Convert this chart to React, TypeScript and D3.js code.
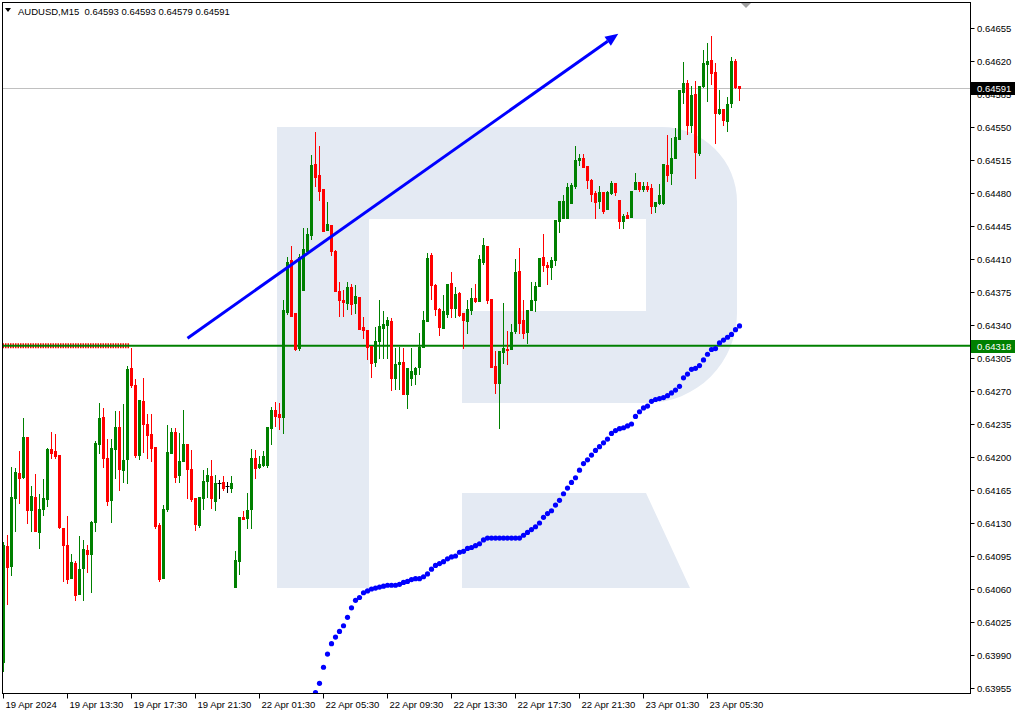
import React from 'react';
import * as d3 from 'd3';

// OHLC quotes, AUDUSD M15 (bar 0 = 19 Apr 09:30)
const opens = [
  0.63983, 0.64106, 0.64084, 0.64156, 0.64183, 0.64179, 0.64221, 0.64144, 0.64158, 0.64120,
  0.64145, 0.64155, 0.64209, 0.64206, 0.64202, 0.64125, 0.64107, 0.64072, 0.64088, 0.64055,
  0.64082, 0.64101, 0.64097, 0.64131, 0.64214, 0.64242, 0.64199, 0.64154, 0.64208, 0.64232,
  0.64186, 0.64198, 0.64294, 0.64276, 0.64202, 0.64259, 0.64235, 0.64224, 0.64211, 0.64128,
  0.64072, 0.64145, 0.64204, 0.64226, 0.64181, 0.64196, 0.64214, 0.64187, 0.64156, 0.64128,
  0.64156, 0.64175, 0.64180, 0.64153, 0.64172, 0.64173, 0.64169, 0.64167, 0.64062, 0.64090,
  0.64136, 0.64135, 0.64145, 0.64199, 0.64189, 0.64191, 0.64191, 0.64231, 0.64250, 0.64246,
  0.64242, 0.64354, 0.64409, 0.64353, 0.64316, 0.64377, 0.64419, 0.64435, 0.64511, 0.64499,
  0.64484, 0.64441, 0.64446, 0.64419, 0.64376, 0.64367, 0.64363, 0.64380, 0.64363, 0.64370,
  0.64338, 0.64335, 0.64318, 0.64301, 0.64323, 0.64337, 0.64340, 0.64344, 0.64284, 0.64299,
  0.64301, 0.64267, 0.64284, 0.64288, 0.64295, 0.64317, 0.64344, 0.64414, 0.64382, 0.64357,
  0.64337, 0.64352, 0.64385, 0.64358, 0.64374, 0.64353, 0.64344, 0.64356, 0.64369, 0.64365,
  0.64407, 0.64424, 0.64368, 0.64297, 0.64278, 0.64311, 0.64315, 0.64315, 0.64334, 0.64397,
  0.64345, 0.64333, 0.64356, 0.64366, 0.64381, 0.64412, 0.64404, 0.64401, 0.64409, 0.64450,
  0.64454, 0.64454, 0.64469, 0.64487, 0.64515, 0.64517, 0.64509, 0.64494, 0.64480, 0.64471,
  0.64481, 0.64463, 0.64480, 0.64491, 0.64473, 0.64450, 0.64457, 0.64455, 0.64484, 0.64492,
  0.64484, 0.64487, 0.64485, 0.64466, 0.64469, 0.64469, 0.64510, 0.64501, 0.64517, 0.64537,
  0.64587, 0.64597, 0.64552, 0.64585, 0.64522, 0.64594, 0.64617, 0.64621, 0.64608, 0.64565,
  0.64569, 0.64556, 0.64575, 0.64620, 0.64593,
];
const highs = [
  0.64110, 0.64117, 0.64189, 0.64188, 0.64206, 0.64241, 0.64221, 0.64169, 0.64182, 0.64161,
  0.64177, 0.64210, 0.64227, 0.64224, 0.64202, 0.64125, 0.64137, 0.64097, 0.64090, 0.64116,
  0.64112, 0.64107, 0.64132, 0.64217, 0.64257, 0.64252, 0.64219, 0.64219, 0.64249, 0.64249,
  0.64256, 0.64296, 0.64316, 0.64283, 0.64260, 0.64284, 0.64246, 0.64246, 0.64211, 0.64130,
  0.64149, 0.64234, 0.64231, 0.64231, 0.64225, 0.64250, 0.64214, 0.64207, 0.64156, 0.64158,
  0.64186, 0.64188, 0.64197, 0.64181, 0.64176, 0.64180, 0.64174, 0.64180, 0.64100, 0.64136,
  0.64143, 0.64162, 0.64209, 0.64207, 0.64201, 0.64206, 0.64232, 0.64253, 0.64258, 0.64257,
  0.64367, 0.64412, 0.64424, 0.64353, 0.64415, 0.64443, 0.64443, 0.64520, 0.64545, 0.64530,
  0.64484, 0.64470, 0.64446, 0.64420, 0.64386, 0.64377, 0.64386, 0.64384, 0.64382, 0.64370,
  0.64348, 0.64335, 0.64318, 0.64338, 0.64366, 0.64355, 0.64348, 0.64347, 0.64316, 0.64317,
  0.64316, 0.64294, 0.64316, 0.64295, 0.64331, 0.64355, 0.64416, 0.64416, 0.64384, 0.64358,
  0.64372, 0.64384, 0.64396, 0.64380, 0.64375, 0.64353, 0.64367, 0.64379, 0.64383, 0.64414,
  0.64432, 0.64424, 0.64368, 0.64312, 0.64312, 0.64363, 0.64334, 0.64341, 0.64410, 0.64422,
  0.64366, 0.64356, 0.64386, 0.64386, 0.64411, 0.64436, 0.64407, 0.64412, 0.64451, 0.64471,
  0.64478, 0.64491, 0.64491, 0.64530, 0.64521, 0.64521, 0.64509, 0.64495, 0.64482, 0.64487,
  0.64481, 0.64482, 0.64493, 0.64491, 0.64473, 0.64458, 0.64460, 0.64482, 0.64501, 0.64492,
  0.64492, 0.64492, 0.64490, 0.64470, 0.64490, 0.64511, 0.64542, 0.64538, 0.64549, 0.64589,
  0.64619, 0.64600, 0.64594, 0.64599, 0.64594, 0.64632, 0.64639, 0.64646, 0.64618, 0.64589,
  0.64569, 0.64582, 0.64624, 0.64622, 0.64593,
];
const lows = [
  0.63973, 0.64044, 0.64075, 0.64121, 0.64151, 0.64178, 0.64130, 0.64122, 0.64121, 0.64104,
  0.64138, 0.64148, 0.64199, 0.64199, 0.64125, 0.64069, 0.64066, 0.64072, 0.64048, 0.64055,
  0.64048, 0.64078, 0.64057, 0.64122, 0.64204, 0.64189, 0.64149, 0.64131, 0.64178, 0.64165,
  0.64174, 0.64172, 0.64274, 0.64200, 0.64198, 0.64205, 0.64199, 0.64196, 0.64125, 0.64069,
  0.64072, 0.64143, 0.64204, 0.64174, 0.64174, 0.64196, 0.64156, 0.64153, 0.64123, 0.64126,
  0.64145, 0.64158, 0.64146, 0.64144, 0.64157, 0.64165, 0.64163, 0.64163, 0.64062, 0.64076,
  0.64134, 0.64125, 0.64125, 0.64178, 0.64188, 0.64190, 0.64189, 0.64214, 0.64233, 0.64230,
  0.64225, 0.64352, 0.64350, 0.64314, 0.64313, 0.64377, 0.64417, 0.64431, 0.64487, 0.64473,
  0.64440, 0.64441, 0.64414, 0.64376, 0.64350, 0.64350, 0.64357, 0.64352, 0.64353, 0.64336,
  0.64326, 0.64304, 0.64285, 0.64297, 0.64305, 0.64305, 0.64305, 0.64271, 0.64272, 0.64272,
  0.64267, 0.64252, 0.64276, 0.64277, 0.64288, 0.64317, 0.64344, 0.64368, 0.64351, 0.64329,
  0.64337, 0.64348, 0.64348, 0.64348, 0.64350, 0.64316, 0.64332, 0.64352, 0.64364, 0.64365,
  0.64405, 0.64363, 0.64295, 0.64268, 0.64231, 0.64300, 0.64299, 0.64315, 0.64331, 0.64331,
  0.64326, 0.64321, 0.64356, 0.64355, 0.64381, 0.64397, 0.64383, 0.64389, 0.64404, 0.64439,
  0.64454, 0.64453, 0.64469, 0.64485, 0.64510, 0.64508, 0.64485, 0.64471, 0.64454, 0.64464,
  0.64459, 0.64463, 0.64479, 0.64478, 0.64443, 0.64443, 0.64454, 0.64455, 0.64484, 0.64482,
  0.64482, 0.64482, 0.64459, 0.64460, 0.64468, 0.64468, 0.64493, 0.64490, 0.64517, 0.64537,
  0.64575, 0.64543, 0.64545, 0.64496, 0.64520, 0.64592, 0.64578, 0.64596, 0.64533, 0.64564,
  0.64552, 0.64546, 0.64571, 0.64591, 0.64579,
];
const closes = [
  0.64107, 0.64083, 0.64158, 0.64184, 0.64178, 0.64221, 0.64144, 0.64159, 0.64122, 0.64145,
  0.64157, 0.64208, 0.64204, 0.64201, 0.64126, 0.64107, 0.64071, 0.64089, 0.64054, 0.64081,
  0.64102, 0.64097, 0.64131, 0.64215, 0.64241, 0.64199, 0.64153, 0.64210, 0.64232, 0.64187,
  0.64197, 0.64293, 0.64276, 0.64202, 0.64260, 0.64235, 0.64223, 0.64210, 0.64127, 0.64071,
  0.64145, 0.64205, 0.64227, 0.64179, 0.64196, 0.64214, 0.64187, 0.64155, 0.64129, 0.64158,
  0.64175, 0.64181, 0.64157, 0.64172, 0.64172, 0.64167, 0.64169, 0.64172, 0.64091, 0.64136,
  0.64134, 0.64144, 0.64199, 0.64188, 0.64193, 0.64201, 0.64232, 0.64250, 0.64244, 0.64242,
  0.64356, 0.64407, 0.64350, 0.64315, 0.64412, 0.64421, 0.64437, 0.64510, 0.64497, 0.64482,
  0.64440, 0.64447, 0.64419, 0.64376, 0.64366, 0.64364, 0.64380, 0.64362, 0.64371, 0.64336,
  0.64335, 0.64317, 0.64300, 0.64323, 0.64339, 0.64341, 0.64345, 0.64284, 0.64299, 0.64301,
  0.64267, 0.64294, 0.64291, 0.64294, 0.64317, 0.64345, 0.64411, 0.64382, 0.64357, 0.64338,
  0.64355, 0.64384, 0.64358, 0.64373, 0.64351, 0.64345, 0.64357, 0.64369, 0.64365, 0.64410,
  0.64425, 0.64366, 0.64295, 0.64278, 0.64312, 0.64316, 0.64314, 0.64333, 0.64396, 0.64342,
  0.64332, 0.64356, 0.64366, 0.64381, 0.64411, 0.64404, 0.64401, 0.64409, 0.64451, 0.64471,
  0.64471, 0.64486, 0.64488, 0.64515, 0.64517, 0.64508, 0.64494, 0.64479, 0.64470, 0.64481,
  0.64461, 0.64481, 0.64491, 0.64481, 0.64450, 0.64456, 0.64454, 0.64482, 0.64492, 0.64484,
  0.64487, 0.64484, 0.64466, 0.64470, 0.64478, 0.64511, 0.64499, 0.64517, 0.64539, 0.64589,
  0.64597, 0.64552, 0.64584, 0.64523, 0.64594, 0.64618, 0.64620, 0.64607, 0.64565, 0.64569,
  0.64557, 0.64574, 0.64620, 0.64592, 0.64591,
];

// dotted indicator, one value per bar starting at bar 78
const dotStart = 78;
const dotValues = [
  0.63950, 0.63960, 0.63977, 0.63991, 0.64002, 0.64009, 0.64015, 0.64021, 0.64030, 0.64040,
  0.64048, 0.64051, 0.64056, 0.64058, 0.64060, 0.64061, 0.64062, 0.64063, 0.64064, 0.64064,
  0.64064, 0.64065, 0.64067, 0.64068, 0.64070, 0.64071, 0.64071, 0.64073, 0.64076, 0.64081,
  0.64085, 0.64087, 0.64089, 0.64092, 0.64094, 0.64095, 0.64099, 0.64100, 0.64103, 0.64104,
  0.64106, 0.64108, 0.64112, 0.64114, 0.64114, 0.64114, 0.64114, 0.64114, 0.64114, 0.64114,
  0.64114, 0.64114, 0.64117, 0.64120, 0.64123, 0.64126, 0.64130, 0.64136, 0.64140, 0.64143,
  0.64149, 0.64154, 0.64161, 0.64167, 0.64173, 0.64178, 0.64186, 0.64193, 0.64197, 0.64202,
  0.64207, 0.64211, 0.64215, 0.64219, 0.64225, 0.64228, 0.64230, 0.64231, 0.64233, 0.64235,
  0.64243, 0.64248, 0.64252, 0.64254, 0.64259, 0.64261, 0.64262, 0.64263, 0.64265, 0.64268,
  0.64271, 0.64275, 0.64284, 0.64288, 0.64293, 0.64294, 0.64297, 0.64303, 0.64309, 0.64314,
  0.64315, 0.64321, 0.64324, 0.64327, 0.64330, 0.64335, 0.64339,
];

const priceTicks = [
  0.63955, 0.63990, 0.64025, 0.64060, 0.64095, 0.64130, 0.64165, 0.64200, 0.64235, 0.64270,
  0.64305, 0.64340, 0.64375, 0.64410, 0.64445, 0.64480, 0.64515, 0.64550, 0.64585, 0.64620,
  0.64655,
];
const timeTickBars = [0, 16, 32, 48, 64, 80, 96, 112, 128, 144, 160, 176];
const timeTickLabels = [
  '19 Apr 2024', '19 Apr 13:30', '19 Apr 17:30', '19 Apr 21:30', '22 Apr 01:30', '22 Apr 05:30',
  '22 Apr 09:30', '22 Apr 13:30', '22 Apr 17:30', '22 Apr 21:30', '23 Apr 01:30', '23 Apr 05:30',
];

const levelPrice = 0.64318;
const levelMarkBars = [0, 31.5];
const bidPrice = 0.64591;
const arrowBars = [46, 153.7];
const arrowPrices = [0.64326, 0.64649];
const header = 'AUDUSD,M15  0.64593 0.64593 0.64579 0.64591';

const W = 1016;
const H = 715;
const frame = { left: 2.5, top: 2.5, right: 970.5, bottom: 693.5 };
const FONT = '"Liberation Sans", Arial, sans-serif';
const GREEN = '#008000';
const RED = '#ff0000';
const BLUE = '#0000ff';

const App: React.FC = () => {
  const x = d3.scaleLinear().domain([0, opens.length - 1]).range([3.5, 739.5]);
  const y = d3.scaleLinear().domain([0.63955, 0.64655]).range([688, 28]);
  const fmt = d3.format('.5f');

  // arrow geometry
  const ax1 = x(arrowBars[0]);
  const ay1 = y(arrowPrices[0]);
  const ax2 = x(arrowBars[1]);
  const ay2 = y(arrowPrices[1]);
  const ang = Math.atan2(ay2 - ay1, ax2 - ax1);
  const headLen = 13;
  const headW = 5.5;
  const bx = ax2 - headLen * Math.cos(ang);
  const by = ay2 - headLen * Math.sin(ang);
  const head = [
    [ax2, ay2],
    [bx + headW * Math.sin(ang), by - headW * Math.cos(ang)],
    [bx - headW * Math.sin(ang), by + headW * Math.cos(ang)],
  ];

  const logoPath =
    'M277,127 H662 A75,75 0 0 1 737,202 V313 A90,90 0 0 1 647,403 H462 V311 H646 V219 H369 V588 H277 Z ' +
    'M462,493 H646 L690,588 H462 Z';

  return (
    <svg
      width={W}
      height={H}
      style={{ position: 'absolute', left: 0, top: 0, background: '#fff' }}
      fontFamily={FONT}
    >
      <defs>
        <clipPath id="plot">
          <rect x={frame.left} y={frame.top} width={frame.right - frame.left} height={frame.bottom - frame.top} />
        </clipPath>
      </defs>
      <rect width={W} height={H} fill="#fff" />

      <g clipPath="url(#plot)">
        <path d={logoPath} fill="#e4eaf3" />

        {/* bid line */}
        <line x1={frame.left} x2={frame.right} y1={Math.round(y(bidPrice)) + 0.5} y2={Math.round(y(bidPrice)) + 0.5} stroke="#c0c0c0" />

        {/* level line with red dotted mark */}
        <line
          x1={x(levelMarkBars[0]) - 1}
          x2={x(levelMarkBars[1])}
          y1={y(levelPrice)}
          y2={y(levelPrice)}
          stroke={RED}
          strokeWidth={5}
          strokeDasharray="1.5 1"
        />
        <line x1={frame.left} x2={frame.right} y1={y(levelPrice)} y2={y(levelPrice)} stroke={GREEN} strokeWidth={2} />

        {/* candles */}
        {opens.map((o, i) => {
          const c = closes[i];
          const col = c > o ? GREEN : c < o ? RED : '#000';
          const cx = x(i);
          const top = Math.round(y(Math.max(o, c)));
          const bot = Math.round(y(Math.min(o, c)));
          const hy = Math.round(y(highs[i]));
          const ly = Math.round(y(lows[i]));
          return (
            <g key={i}>
              <line x1={cx} x2={cx} y1={hy} y2={ly + 1} stroke={col} strokeWidth={1} />
              {c === o ? (
                <line x1={cx - 2} x2={cx + 2} y1={top + 0.5} y2={top + 0.5} stroke={col} strokeWidth={1} />
              ) : (
                <rect x={cx - 1.5} y={top} width={3} height={Math.max(1, bot - top + 1)} fill={col} />
              )}
            </g>
          );
        })}

        {/* dotted indicator */}
        {dotValues.map((v, k) => (
          <circle key={k} cx={x(dotStart + k)} cy={y(v)} r={2.6} fill={BLUE} />
        ))}

        {/* arrow */}
        <line x1={ax1} y1={ay1} x2={bx} y2={by} stroke={BLUE} strokeWidth={3} />
        <polygon points={head.map((p) => p.join(',')).join(' ')} fill={BLUE} />
      </g>

      {/* frame */}
      <rect
        x={frame.left}
        y={frame.top}
        width={frame.right - frame.left}
        height={frame.bottom - frame.top}
        fill="none"
        stroke="#000"
      />

      {/* shift marker */}
      <polygon points="741,3 751,3 746,8" fill="#a0a0a0" />

      {/* header */}
      <polygon points="5,8 11,8 8,12" fill="#000" />
      <text x={18} y={14.5} fontSize={9.5} fill="#000" style={{ whiteSpace: 'pre' }}>
        {header}
      </text>

      {/* price axis */}
      {priceTicks.map((v) => {
        const py = Math.round(y(v)) + 0.5;
        return (
          <g key={v}>
            <line x1={frame.right} x2={frame.right + 4} y1={py} y2={py} stroke="#000" />
            <text x={977} y={py + 3.5} fontSize={9.5} fill="#000">
              {fmt(v)}
            </text>
          </g>
        );
      })}

      {/* current price / level labels */}
      <rect x={971} y={Math.round(y(bidPrice)) - 6} width={44} height={13} fill="#000" />
      <text x={977} y={Math.round(y(bidPrice)) + 4} fontSize={9.5} fill="#fff">
        {fmt(bidPrice)}
      </text>
      <rect x={971} y={Math.round(y(levelPrice)) - 6} width={44} height={13} fill={GREEN} />
      <text x={977} y={Math.round(y(levelPrice)) + 4} fontSize={9.5} fill="#fff">
        {fmt(levelPrice)}
      </text>

      {/* time axis */}
      {timeTickBars.map((b, k) => {
        const tx = Math.floor(x(b)) + 0.5;
        return (
          <g key={b}>
            <line x1={tx} x2={tx} y1={frame.bottom} y2={frame.bottom + 5} stroke="#000" />
            <text x={tx + 2} y={708} fontSize={9.5} fill="#000">
              {timeTickLabels[k]}
            </text>
          </g>
        );
      })}
    </svg>
  );
};

export default App;
